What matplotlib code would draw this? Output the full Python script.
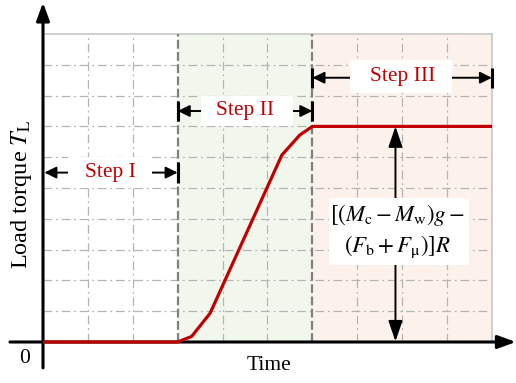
import matplotlib
matplotlib.use("Agg")
import matplotlib.pyplot as plt
from matplotlib.patches import Rectangle

plt.rcParams['font.family'] = ['Liberation Serif', 'DejaVu Serif']
plt.rcParams['mathtext.fontset'] = 'stix'

# ---- data ----
time_pts = [0, 3, 3.31, 3.72, 5.32, 5.72, 6.0, 10]
torque = [0, 0, 0.18, 0.93, 6.07, 6.72, 7.0, 7.0]
steps = ["Step I", "Step II", "Step III"]
step_bounds = [(0, 3), (3, 6), (6, 10)]
step_arrow_y = [5.5, 7.5, 8.58]
step_label_x = [1.5, 4.5, 8.0]
formula_lines = [r'$[(M_\mathrm{c}-M_\mathrm{w})g-$', r'$(F_\mathrm{b}+F_\mathrm{\mu})]R$']
plateau = 7.0
x_label = "Time"
y_label = r"Load torque $T_\mathrm{L}$"
origin_label = "0"

RED = '#c00000'

fig = plt.figure(figsize=(5.16, 3.83), dpi=100)
ax = fig.add_axes([0, 0, 1, 1])
ax.axis('off')
ax.set_xlim(-43 / 44.9, (516 - 43) / 44.9)
ax.set_ylim(-(383 - 342) / 30.8, 342 / 30.8)

# backgrounds
ax.add_patch(Rectangle((3, 0), 3, 10, facecolor='#f2f7ee', edgecolor='none', zorder=0))
ax.add_patch(Rectangle((6, 0), 4, 10, facecolor='#fcf2eb', edgecolor='none', zorder=0))

# grid
gkw = dict(color='#b4b4b4', lw=0.9, dashes=(7, 3, 1.5, 3), zorder=1)
for yv in range(1, 10):
    ax.plot([0, 10], [yv, yv], **gkw)
for xv in [1, 2, 4, 5, 7, 8, 9]:
    ax.plot([xv, xv], [0, 10], **gkw)
ax.plot([0, 10], [10, 10], color='#c8c8c8', lw=1.2, zorder=1)
ax.plot([10, 10], [0, 10], color='#c8c8c8', lw=1.2, zorder=1)
for xv in [3, 6]:
    ax.plot([xv, xv], [0, 10], color='#808080', lw=1.6, dashes=(4, 1.5), zorder=2)

# axes
akw = dict(arrowstyle='-|>,head_length=0.6,head_width=0.22', mutation_scale=18,
           lw=2.2, color='k', shrinkA=0, shrinkB=0)
ax.annotate('', xy=(10.53, 0), xytext=(-0.735, 0), arrowprops=akw, zorder=6)
ax.annotate('', xy=(0, 11.02), xytext=(0, -0.84), arrowprops=akw, zorder=6)

# curve
ax.plot(time_pts, torque, color=RED, lw=2.3, zorder=7, solid_capstyle='butt',
        solid_joinstyle='round')

# step arrows
skw = dict(arrowstyle='<|-|>,head_length=0.55,head_width=0.27', mutation_scale=13,
           lw=1.4, color='k', shrinkA=0, shrinkB=0)
boxes = [(0.56, 2.43, 5.0, 6.0), (3.51, 5.56, 7.0, 8.0), (6.84, 9.10, 8.1, 9.15)]
for (a, b), yv, lbl, xl, bx in zip(step_bounds, step_arrow_y, steps, step_label_x, boxes):
    ax.annotate('', xy=(a + (0.03 if a == 0 else 0), yv), xytext=(b, yv), arrowprops=skw, zorder=3)
    for e in (a, b):
        if e != 0:
            ax.plot([e, e], [yv - 0.33, yv + 0.33], color='k', lw=2.2, zorder=3,
                    solid_capstyle='butt')
    ax.add_patch(Rectangle((bx[0], bx[2]), bx[1] - bx[0], bx[3] - bx[2],
                           facecolor='white', edgecolor='none', zorder=4))
    ax.text(xl, (bx[2] + bx[3]) / 2, lbl, color=RED, fontsize=15.5, ha='center',
            va='center', zorder=5)

# vertical double arrow for plateau value
vkw = dict(arrowstyle='<|-|>,head_length=0.7,head_width=0.24', mutation_scale=18,
           lw=1.4, color='k', shrinkA=0, shrinkB=0)
ax.annotate('', xy=(7.85, plateau), xytext=(7.85, 0.02), arrowprops=vkw, zorder=3)
ax.add_patch(Rectangle((6.37, 2.5), 9.49 - 6.37, 4.68 - 2.5, facecolor='white',
                       edgecolor='none', zorder=4))
ax.text(7.9, 4.12, formula_lines[0], fontsize=16.5, ha='center', va='center', zorder=5)
ax.text(7.9, 3.08, formula_lines[1], fontsize=16.5, ha='center', va='center', zorder=5)

# labels
ax.text(-0.47, 4.8, y_label, rotation=90, fontsize=17.5, ha='center', va='center')
ax.text(5.03, -0.75, x_label, fontsize=15.5, ha='center', va='center')
ax.text(-0.4, -0.52, origin_label, fontsize=15.5, ha='center', va='center')

fig.savefig('out.png', dpi=100)
